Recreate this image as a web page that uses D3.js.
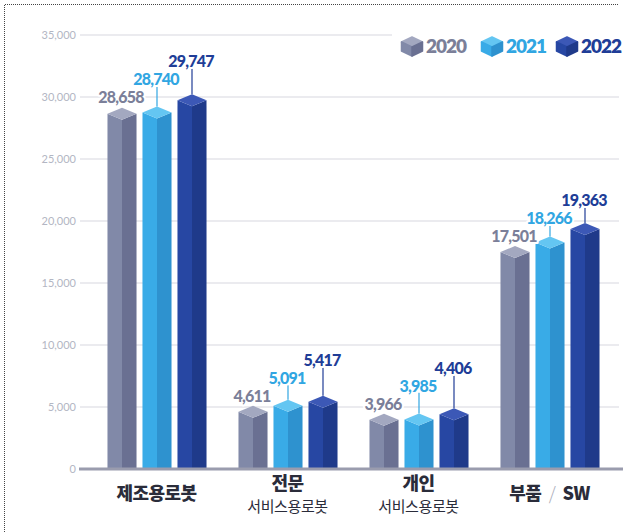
<!DOCTYPE html>
<html>
<head>
<meta charset="utf-8">
<script src="https://cdn.jsdelivr.net/npm/d3@7"></script>
<style>
  html, body { margin: 0; padding: 0; background: #ffffff; }
  svg { display: block; }
</style>
</head>
<body>
<svg id="chart" width="623" height="532"></svg>
<script>
// Robot industry output by segment, 2020–2022
const categories = ["제조용로봇", "전문 서비스용로봇", "개인 서비스용로봇", "부품 / SW"];
const categoryMain = ["제조용로봇", "전문", "개인", "부품 / SW"];
const categorySub = ["", "서비스용로봇", "서비스용로봇", ""];
const years = ["2020", "2021", "2022"];
const values2020 = [28658, 4611, 3966, 17501];
const values2021 = [28740, 5091, 3985, 18266];
const values2022 = [29747, 5417, 4406, 19363];
const yTickValues = [0, 5000, 10000, 15000, 20000, 25000, 30000, 35000];

const seriesValues = [values2020, values2021, values2022];

// colour sets per year: top cap, lit face, shaded face, text
const palette = {
  "2020": { cap: "#a3a8c0", left: "#8189a8", right: "#6a7092", text: "#7b7f99" },
  "2021": { cap: "#64c6f2", left: "#39abe7", right: "#2e92cf", text: "#31a6e2" },
  "2022": { cap: "#3c58b6", left: "#2747a3", right: "#1f3a8a", text: "#203d97" }
};

const svg = d3.select("#chart");

// dotted frame
svg.append("path")
  .attr("d", "M4.5,532 L4.5,4.5 L619,4.5")
  .attr("fill", "none")
  .attr("stroke", "#444")
  .attr("stroke-width", 1)
  .attr("stroke-dasharray", "1,1");

const y = d3.scaleLinear().domain([0, 35000]).range([469, 35]);
const x = d3.scaleBand().domain(categories).range([91, 615]).padding(0);
const xs = d3.scaleBand().domain(years).range([13.5, 118.5]).paddingInner(0.17).paddingOuter(0.085);

// gridlines and tick labels
const grid = svg.append("g");
yTickValues.filter(v => v > 0).forEach(v => {
  grid.append("line")
    .attr("x1", 80).attr("x2", v === 35000 ? 392 : 619)
    .attr("y1", y(v)).attr("y2", y(v))
    .attr("stroke", "#e4e5ea").attr("stroke-width", 1.5);
});
const yAxis = d3.axisLeft(y).tickValues(yTickValues).tickSize(0).tickPadding(0)
  .tickFormat(d3.format(","));
const yg = svg.append("g").attr("transform", "translate(76,0)").call(yAxis);
yg.select(".domain").remove();
yg.selectAll("text")
  .attr("fill", "#b3b6c3")
  .style("font-family", "Lato, 'Noto Sans', sans-serif")
  .style("font-size", "11px");

// bars drawn as square prisms seen edge-on
const bars = svg.append("g");
const labels = svg.append("g");
const capH = 6;

categories.forEach((cat, ci) => {
  let prevLabel = null;
  years.forEach((yr, si) => {
    const v = seriesValues[si][ci];
    const c = palette[yr];
    const x0 = x(cat) + xs(yr);
    const w = xs.bandwidth();
    const xc = x0 + w / 2;
    const x1 = x0 + w;
    const yv = y(v);
    const yb = y(0);
    bars.append("polygon")
      .attr("points", [[x0, yv], [xc, yv + capH], [xc, yb], [x0, yb]].join(" "))
      .attr("fill", c.left);
    bars.append("polygon")
      .attr("points", [[xc, yv + capH], [x1, yv], [x1, yb], [xc, yb]].join(" "))
      .attr("fill", c.right);
    bars.append("polygon")
      .attr("points", [[x0, yv], [xc, yv - capH], [x1, yv], [xc, yv + capH]].join(" "))
      .attr("fill", c.cap);

    // value label, stepped upward so neighbours never collide
    let ly = yv - 16;
    if (prevLabel !== null) ly = Math.min(ly, prevLabel - 18);
    prevLabel = ly;
    if ((yv - capH) - (ly + 8) > 2) {
      labels.append("line")
        .attr("x1", xc).attr("x2", xc)
        .attr("y1", ly + 7).attr("y2", yv - capH)
        .attr("stroke", c.text).attr("stroke-width", 1.2);
    }
    labels.append("text")
      .attr("x", xc - 1).attr("y", ly)
      .attr("dy", "0.36em")
      .attr("text-anchor", "middle")
      .attr("fill", c.text)
      .attr("stroke", "#ffffff").attr("stroke-width", 4)
      .attr("stroke-linejoin", "round")
      .attr("paint-order", "stroke")
      .style("font-family", "Lato, 'Noto Sans', sans-serif")
      .style("font-weight", "900")
      .style("font-size", "16px")
      .style("letter-spacing", "-0.8px")
      .text(d3.format(",")(v));
  });
});

// baseline
svg.append("line")
  .attr("x1", 79).attr("x2", 623)
  .attr("y1", y(0)).attr("y2", y(0))
  .attr("stroke", "#9a9cae").attr("stroke-width", 3);

// category labels
const catG = svg.append("g")
  .style("font-family", "'Noto Sans CJK KR', 'Noto Sans', sans-serif")
  .attr("text-anchor", "middle");
categories.forEach((cat, ci) => {
  const cx = x(cat) + x.bandwidth() / 2;
  const hasSub = categorySub[ci] !== "";
  const main = catG.append("text")
    .attr("x", cx).attr("y", hasSub ? 484 : 494)
    .attr("dy", "0.36em")
    .attr("fill", "#2a2c3a")
    .style("font-weight", "900")
    .style("font-size", "18px")
    .style("letter-spacing", "-0.6px");
  const parts = categoryMain[ci].split(" / ");
  if (parts.length === 2) {
    main.append("tspan").text(parts[0]);
    main.append("tspan").attr("fill", "#a9abb7").style("font-weight", "300")
      .attr("dx", 4).text(" / ");
    main.append("tspan").attr("dx", 4).text(parts[1]);
  } else {
    main.text(categoryMain[ci]);
  }
  if (hasSub) {
    catG.append("text")
      .attr("x", cx).attr("y", 507)
      .attr("dy", "0.36em")
      .attr("fill", "#2a2c3a")
      .style("font-weight", "400")
      .style("font-size", "15px")
      .style("letter-spacing", "-0.4px")
      .text(categorySub[ci]);
  }
});

// legend with small cube swatches
const legendX = [412, 492, 567];
const leg = svg.append("g");
years.forEach((yr, i) => {
  const c = palette[yr];
  const cx = legendX[i], top = 37, hw = 10.5;
  leg.append("polygon")
    .attr("points", [[cx, top], [cx + hw, top + 5], [cx, top + 10], [cx - hw, top + 5]].join(" "))
    .attr("fill", c.cap).attr("stroke", c.cap).attr("stroke-width", 1.5).attr("stroke-linejoin", "round");
  leg.append("polygon")
    .attr("points", [[cx - hw, top + 5], [cx, top + 10], [cx, top + 19], [cx - hw, top + 14]].join(" "))
    .attr("fill", c.left).attr("stroke", c.left).attr("stroke-width", 1.5).attr("stroke-linejoin", "round");
  leg.append("polygon")
    .attr("points", [[cx, top + 10], [cx + hw, top + 5], [cx + hw, top + 14], [cx, top + 19]].join(" "))
    .attr("fill", c.right).attr("stroke", c.right).attr("stroke-width", 1.5).attr("stroke-linejoin", "round");
  leg.append("text")
    .attr("x", cx + 14).attr("y", 46)
    .attr("dy", "0.36em")
    .attr("fill", c.text)
    .style("font-family", "Lato, 'Noto Sans', sans-serif")
    .style("font-weight", "800")
    .style("font-size", "19px")
    .style("letter-spacing", "-1px")
    .text(yr);
});
</script>
</body>
</html>
